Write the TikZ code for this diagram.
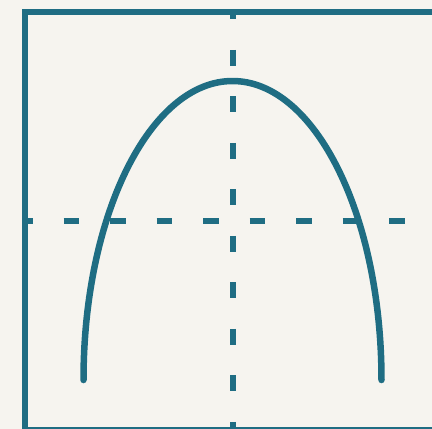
\documentclass[tikz,border=0pt]{standalone}
\definecolor{teal}{HTML}{1F6D83}
\definecolor{paper}{HTML}{F6F4EF}
\begin{document}
\begin{tikzpicture}[x=1pt,y=-1pt,
  frameline/.style={draw=teal,line width=6pt},
  axisline/.style={draw=teal,line width=6pt,dash pattern=on 15.6pt off 30.9pt},
  curveline/.style={draw=teal,line width=6.5pt,line cap=round}]
\fill[paper] (0,0) rectangle (432,429);
\useasboundingbox (0,0) rectangle (432,429);
\clip (0,0) rectangle (432,429);
\coordinate (ftl) at (25,12);
\coordinate (fbr) at (470,429.5);
\draw[frameline] (ftl) rectangle (fbr);
\coordinate (vtop) at (232.8,12);
\coordinate (vbot) at (232.8,445);
\draw[axisline,dash phase=8.6pt] (vtop) -- (vbot);
\coordinate (hleft) at (25,220.7);
\coordinate (hright) at (445,220.7);
\draw[axisline,dash phase=8pt] (hleft) -- (hright);
\coordinate (cstart) at (83.5,380);
\draw[curveline] (cstart) arc[start angle=180,end angle=360,x radius=149,y radius=299];
\end{tikzpicture}
\end{document}
